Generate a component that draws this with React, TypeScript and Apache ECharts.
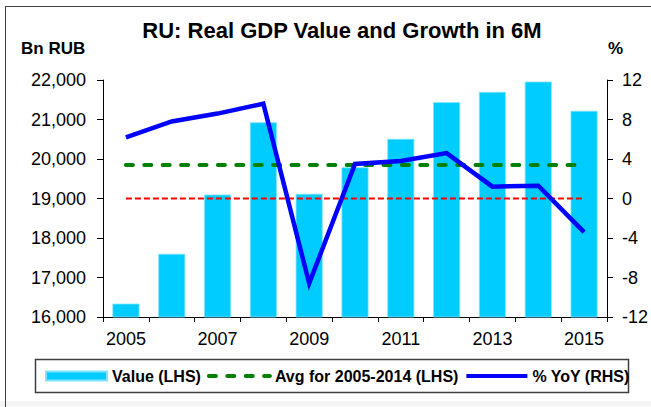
import React, { useEffect, useRef } from "react";
import * as echarts from "echarts";

const years = ["2005", "2006", "2007", "2008", "2009", "2010", "2011", "2012", "2013", "2014", "2015"];
const valueBnRub = [16340, 17600, 19100, 20930, 19120, 19790, 20510, 21440, 21700, 21960, 21220];
const avgBnRub = [19850, 19850, 19850, 19850, 19850, 19850, 19850, 19850, 19850, 19850, 19850];
const yoyPct = [6.2, 7.8, 8.6, 9.6, -8.6, 3.5, 3.8, 4.6, 1.2, 1.3, -3.4];
const zeroPct = [0, 0, 0, 0, 0, 0, 0, 0, 0, 0, 0];

const FONT = "Arial, 'Liberation Sans', Helvetica, sans-serif";

export default function App() {
  const ref = useRef<HTMLDivElement>(null);
  useEffect(() => {
    document.body.style.margin = "0";
    const chart = echarts.init(ref.current!, null, { renderer: "svg" });
    chart.setOption({
      animation: false,
      backgroundColor: "#ffffff",
      textStyle: { fontFamily: FONT },
      title: {
        text: "RU: Real GDP Value and Growth in 6M",
        left: 337,
        top: 14,
        textAlign: "center",
        textStyle: { fontFamily: FONT, fontSize: 22, fontWeight: "bold", color: "#000" },
      },
      graphic: [
        { type: "line", shape: { x1: 5.5, y1: 6, x2: 5.5, y2: 407 }, style: { stroke: "#404040", lineWidth: 1 } },
        { type: "line", shape: { x1: 5, y1: 6.5, x2: 651, y2: 6.5 }, style: { stroke: "#404040", lineWidth: 1 } },
        { type: "rect", shape: { x: 0, y: 401, width: 651, height: 6 }, style: { fill: "#f4f4f4" }, z: -1 },
        { type: "rect", shape: { x: 35.5, y: 359.5, width: 593, height: 33 }, style: { fill: "none", stroke: "#404040", lineWidth: 1.5 } },
        { type: "text", x: 21, y: 48, style: { text: "Bn RUB", font: `bold 17px ${FONT}`, fill: "#000", verticalAlign: "middle" } },
        { type: "text", x: 608, y: 48, style: { text: "%", font: `bold 17px ${FONT}`, fill: "#000", verticalAlign: "middle" } },
      ],
      legend: {
        left: 45,
        top: 368,
        padding: 0,
        itemWidth: 61,
        itemHeight: 9,
        itemGap: 6,
        textStyle: { fontFamily: FONT, fontSize: 16, fontWeight: "bold", color: "#000" },
        lineStyle: { width: 4 },
        data: [
          { name: "Value (LHS)", icon: "rect" },
          { name: "Avg for 2005-2014 (LHS)", itemStyle: { opacity: 0 } },
          { name: "% YoY (RHS)", itemStyle: { opacity: 0 } },
        ],
      },
      grid: { left: 103, right: 44, top: 80, bottom: 90 },
      xAxis: {
        type: "category",
        data: years,
        boundaryGap: true,
        axisLine: { onZero: false, lineStyle: { color: "#000", width: 1 } },
        axisTick: { show: true, interval: 0, length: 5, lineStyle: { color: "#000" } },
        axisLabel: { interval: 1, margin: 13, fontSize: 18, color: "#000", fontFamily: FONT },
        splitLine: { show: false },
      },
      yAxis: [
        {
          type: "value",
          min: 16000,
          max: 22000,
          interval: 1000,
          position: "left",
          axisLine: { show: true, lineStyle: { color: "#000", width: 1 } },
          axisTick: { show: true, length: 6, lineStyle: { color: "#000" } },
          axisLabel: {
            margin: 17,
            fontSize: 18,
            color: "#000",
            fontFamily: FONT,
            formatter: (v: number) => v.toLocaleString("en-US"),
          },
          splitLine: { show: false },
        },
        {
          type: "value",
          min: -12,
          max: 12,
          interval: 4,
          position: "right",
          axisLine: { show: true, lineStyle: { color: "#000", width: 1 } },
          axisTick: { show: true, length: 6, lineStyle: { color: "#000" } },
          axisLabel: { margin: 15, fontSize: 18, color: "#000", fontFamily: FONT },
          splitLine: { show: false },
        },
      ],
      series: [
        {
          name: "Value (LHS)",
          type: "bar",
          data: valueBnRub,
          yAxisIndex: 0,
          barWidth: "59%",
          itemStyle: { color: "#00CCFF", borderColor: "#80e4ff", borderWidth: 0.8 },
          z: 1,
        },
        {
          name: "Avg for 2005-2014 (LHS)",
          type: "line",
          data: avgBnRub,
          yAxisIndex: 0,
          symbol: "none",
          showSymbol: false,
          lineStyle: { color: "#008000", width: 4, type: [7, 11.4], cap: "round" },
          itemStyle: { color: "#008000" },
          z: 3,
        },
        {
          name: "zero",
          type: "line",
          data: zeroPct,
          yAxisIndex: 1,
          symbol: "none",
          showSymbol: false,
          lineStyle: { color: "#FF0000", width: 2, type: [6, 3] },
          itemStyle: { color: "#FF0000" },
          z: 3,
        },
        {
          name: "% YoY (RHS)",
          type: "line",
          data: yoyPct,
          yAxisIndex: 1,
          symbol: "none",
          showSymbol: false,
          lineStyle: { color: "#0000FF", width: 4.5, join: "miter" },
          itemStyle: { color: "#0000FF" },
          z: 4,
        },
      ],
    });
    return () => chart.dispose();
  }, []);
  return <div ref={ref} style={{ width: 651, height: 407 }} />;
}
